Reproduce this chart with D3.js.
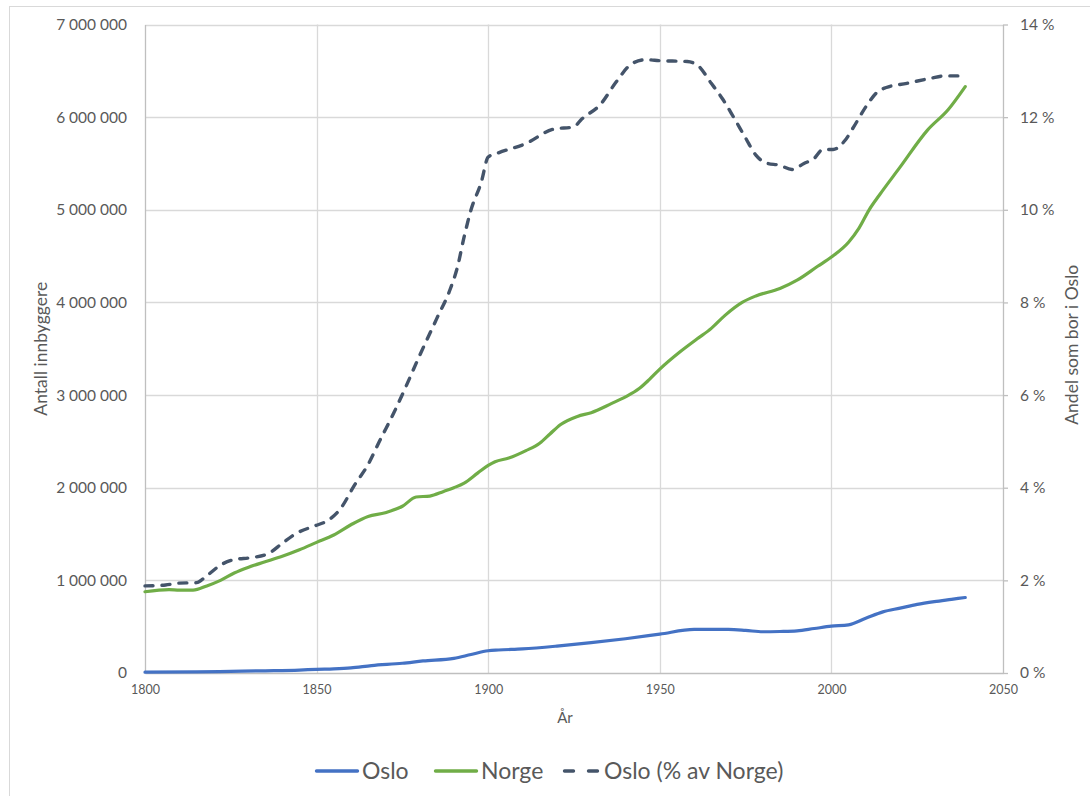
<!DOCTYPE html>
<html>
<head>
<meta charset="utf-8">
<script src="https://cdn.jsdelivr.net/npm/d3@7"></script>
<style>
  html, body { margin: 0; padding: 0; background: #fff; }
  svg { display: block; font-family: Lato, "Open Sans", sans-serif; }
</style>
</head>
<body>
<svg id="chart" width="1090" height="796"></svg>
<script>
// ---- Data ----
const norgeYears = [1800,1807,1810,1814,1818,1822,1826,1830,1835,1840,1845,1850,1855,1860,1865,1870,1875,1879,1883,1887,1890,1893,1897,1900,1902,1906,1911,1915,1918,1921,1926,1930,1936,1940,1944,1947,1950,1956,1961,1965,1969,1974,1978,1985,1990,1996,2000,2005,2008,2011,2014,2020,2028,2034,2039];
const norgeValues = [877000,900000,895000,895000,940000,1000000,1080000,1140000,1200000,1260000,1330000,1410000,1490000,1600000,1690000,1730000,1800000,1900000,1910000,1960000,2000000,2050000,2160000,2240000,2280000,2320000,2400000,2480000,2580000,2680000,2770000,2810000,2910000,2980000,3070000,3170000,3280000,3470000,3610000,3720000,3860000,4000000,4070000,4150000,4240000,4390000,4490000,4650000,4800000,5000000,5160000,5460000,5860000,6080000,6330000];

const osloYears = [1800,1815,1825,1835,1845,1850,1855,1860,1866,1875,1881,1890,1895,1900,1903,1910,1920,1930,1940,1950,1960,1970,1975,1980,1985,1990,1995,2000,2005,2010,2015,2020,2025,2030,2035,2039];
const osloValues = [9000,12000,18000,24000,32000,40000,45000,55000,80000,105000,130000,158000,200000,240000,248000,260000,290000,327000,370000,420000,470000,470000,460000,445000,448000,455000,480000,505000,520000,590000,660000,700000,740000,770000,795000,815000];

const shareYears = [1800,1806,1810,1815,1818,1822,1826,1831,1836,1840,1844,1850,1853,1857,1861,1865,1868.5,1872.4,1876,1880,1885,1889,1891,1893,1895,1898,1900,1903,1911,1919,1925,1927,1933,1937,1942,1946,1950,1958,1961,1965,1968.5,1971.5,1975,1978,1981,1985,1988.5,1992,1995,1997.5,2000.5,2004,2006.5,2010,2013.5,2016,2022,2029,2033,2039];
const sharePercent = [1.88,1.90,1.94,1.95,2.10,2.33,2.45,2.49,2.58,2.80,3.01,3.19,3.28,3.55,4.05,4.50,5.03,5.60,6.18,6.85,7.65,8.30,8.75,9.42,10.0,10.6,11.14,11.23,11.43,11.74,11.79,11.94,12.30,12.73,13.16,13.24,13.22,13.20,13.12,12.73,12.37,12.0,11.55,11.18,11.01,10.96,10.87,11.0,11.11,11.30,11.30,11.50,11.79,12.22,12.55,12.64,12.73,12.84,12.89,12.89];

const xTicks = [1800,1850,1900,1950,2000,2050];
const yTicks = [0,1000000,2000000,3000000,4000000,5000000,6000000,7000000];
const y2Ticks = [0,2,4,6,8,10,12,14];

const seriesNames = ["Oslo", "Norge", "Oslo (% av Norge)"];
const colors = { oslo: "#4472C4", norge: "#70AD47", share: "#44546A" };

// ---- Layout ----
const svg = d3.select("#chart");
const plot = { left: 145, right: 1003, top: 24.5, bottom: 673 };
const textColor = "#595959";

// outer chart border
svg.append("rect").attr("x", 9.5).attr("y", 6.5).attr("width", 1090).attr("height", 800)
  .attr("fill", "none").attr("stroke", "#d9d9d9").attr("stroke-width", 1);

const x = d3.scaleLinear().domain([1800, 2050]).range([plot.left, plot.right]);
const y = d3.scaleLinear().domain([0, 7000000]).range([plot.bottom, plot.top]);
const y2 = d3.scaleLinear().domain([0, 14]).range([plot.bottom, plot.top]);

const fmtSpace = v => d3.format(",")(v).replace(/,/g, "\u00a0");

// gridlines
const grid = svg.append("g");
grid.selectAll(".hg").data(yTicks.filter(d => d > 0)).join("line")
  .attr("x1", plot.left).attr("x2", plot.right)
  .attr("y1", d => Math.round(y(d)) + 0.5).attr("y2", d => Math.round(y(d)) + 0.5)
  .attr("stroke", "#d9d9d9").attr("stroke-width", 1.3);
grid.selectAll(".vg").data(xTicks.filter(d => d > 1800 && d < 2050)).join("line")
  .attr("y1", plot.top).attr("y2", plot.bottom)
  .attr("x1", d => Math.round(x(d)) + 0.5).attr("x2", d => Math.round(x(d)) + 0.5)
  .attr("stroke", "#d9d9d9").attr("stroke-width", 1.3);

// axes
const xAxis = d3.axisBottom(x).tickValues(xTicks).tickSize(0).tickPadding(12).tickFormat(d3.format("d"));
const gx = svg.append("g").attr("transform", `translate(0,${plot.bottom})`).call(xAxis);
gx.select(".domain").attr("stroke", "#bfbfbf").attr("stroke-width", 1.3);
gx.selectAll("text").attr("fill", textColor).attr("font-size", "12.5px").attr("font-family", "Lato");

const yAxis = d3.axisLeft(y).tickValues(yTicks).tickSize(0).tickPadding(18).tickFormat(fmtSpace);
const gy = svg.append("g").attr("transform", `translate(${plot.left},0)`).call(yAxis);
gy.select(".domain").attr("stroke", "#bfbfbf").attr("stroke-width", 1.3);
gy.selectAll("text").attr("fill", textColor).attr("font-size", "15.5px").attr("font-family", "Lato");

const y2Axis = d3.axisRight(y2).tickValues(y2Ticks).tickSize(5).tickSizeOuter(0).tickPadding(12)
  .tickFormat(d => d + "\u00a0%");
const gy2 = svg.append("g").attr("transform", `translate(${plot.right},0)`).call(y2Axis);
gy2.select(".domain").attr("stroke", "#bfbfbf").attr("stroke-width", 1.3);
gy2.selectAll(".tick line").attr("stroke", "#bfbfbf").attr("stroke-width", 1.3);
gy2.selectAll("text").attr("fill", textColor).attr("font-size", "15.5px").attr("font-family", "Lato");

// axis titles
svg.append("text").attr("x", 565).attr("y", 723).attr("text-anchor", "middle")
  .attr("fill", textColor).attr("font-size", "15px").text("År");
svg.append("text").attr("transform", `translate(47,${(plot.top + plot.bottom) / 2}) rotate(-90)`)
  .attr("text-anchor", "middle").attr("fill", textColor).attr("font-size", "17.5px").text("Antall innbyggere");
svg.append("text").attr("transform", `translate(1078,${(plot.top + plot.bottom) / 2 - 4}) rotate(-90)`)
  .attr("text-anchor", "middle").attr("fill", textColor).attr("font-size", "17.5px").text("Andel som bor i Oslo");

// lines
const lineLeft = d3.line().x(d => x(d[0])).y(d => y(d[1])).curve(d3.curveMonotoneX);
const lineRight = d3.line().x(d => x(d[0])).y(d => y2(d[1])).curve(d3.curveMonotoneX);

svg.append("path").datum(d3.zip(osloYears, osloValues))
  .attr("d", lineLeft).attr("fill", "none").attr("stroke", colors.oslo)
  .attr("stroke-width", 3.2).attr("stroke-linecap", "round").attr("stroke-linejoin", "round");
svg.append("path").datum(d3.zip(norgeYears, norgeValues))
  .attr("d", lineLeft).attr("fill", "none").attr("stroke", colors.norge)
  .attr("stroke-width", 3.2).attr("stroke-linecap", "round").attr("stroke-linejoin", "round");
svg.append("path").datum(d3.zip(shareYears, sharePercent))
  .attr("d", lineRight).attr("fill", "none").attr("stroke", colors.share)
  .attr("stroke-width", 3.4).attr("stroke-linecap", "round").attr("stroke-linejoin", "round")
  .attr("stroke-dasharray", "8,9");

// legend
const legendItems = [
  { name: seriesNames[0], color: colors.oslo, dash: null, x: 315, len: 41, tx: 47 },
  { name: seriesNames[1], color: colors.norge, dash: null, x: 434, len: 41, tx: 47 },
  { name: seriesNames[2], color: colors.share, dash: "9,15", x: 563, len: 34, tx: 41 }
];
const lg = svg.append("g").attr("transform", "translate(0,771)");
legendItems.forEach(it => {
  lg.append("line").attr("x1", it.x + 1.5).attr("x2", it.x + 1.5 + it.len).attr("y1", 0).attr("y2", 0)
    .attr("stroke", it.color).attr("stroke-width", 3.4).attr("stroke-linecap", "round")
    .attr("stroke-dasharray", it.dash);
  lg.append("text").attr("x", it.x + it.tx).attr("y", 8).attr("fill", textColor)
    .attr("font-size", "23px").text(it.name);
});
</script>
</body>
</html>
